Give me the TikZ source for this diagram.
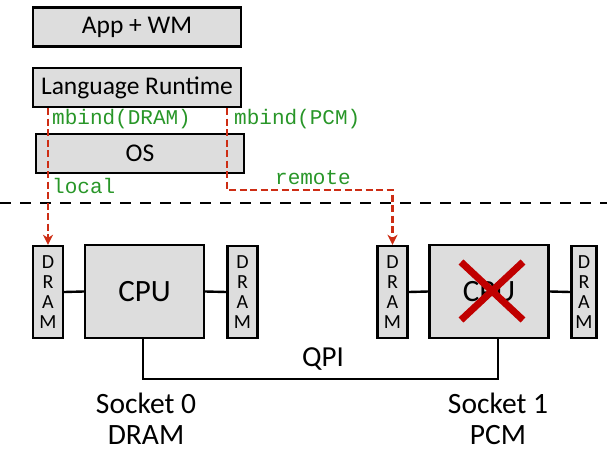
\documentclass[tikz,border=0pt]{standalone}
\usepackage{fontspec}
\setmainfont{Carlito}
\setmonofont{Liberation Mono}
\usetikzlibrary{arrows.meta,calc}
\definecolor{boxgray}{RGB}{221,221,221}
\definecolor{codegreen}{RGB}{40,150,40}
\definecolor{pathred}{RGB}{205,45,20}
\definecolor{crossred}{RGB}{192,0,0}
\begin{document}
\begin{tikzpicture}[x=1pt,y=-1pt,
  swbox/.style={draw=black,line width=2.4pt,fill=boxgray,minimum width=208pt,minimum height=39pt,inner sep=0pt,font=\fontsize{25.5}{25.5}\selectfont},
  cpubox/.style={draw=black,line width=2.4pt,fill=boxgray,minimum width=119pt,minimum height=93pt,inner sep=0pt,font=\fontsize{31}{31}\selectfont},
  drambox/.style={draw=black,line width=2.4pt,fill=boxgray,minimum width=30pt,minimum height=92pt,inner sep=0pt,align=center,font=\fontsize{20}{20}\selectfont},
  wire/.style={draw=black,line width=2.4pt},
  codelbl/.style={text=codegreen,font=\ttfamily\fontsize{21}{21}\selectfont,inner sep=0pt,anchor=west},
  redpath/.style={draw=pathred,line width=2.4pt,dash pattern=on 7pt off 3.5pt,-{Stealth[length=10pt,width=10pt,inset=3pt]}},
  socklbl/.style={font=\fontsize{29.5}{29.5}\selectfont,inner sep=0pt}
]
\useasboundingbox (0,0) rectangle (607,452);
% software stack
\node[swbox] (app) at (137,27) {App + WM};
\node[swbox] (lr) at (137,87.5) {Language Runtime};
\node[swbox] (os) at (140,153.5) {OS};
% separator
\coordinate (sepL) at (0,203);
\coordinate (sepR) at (607,203);
\draw[line width=2.2pt,dash pattern=on 11pt off 9pt] (sepL) -- (sepR);
% hardware
\node[drambox] (dram1) at (48,292) {D\\R\\A\\M};
\node[cpubox] (cpu0) at (144.5,291.5) {CPU};
\node[drambox] (dram2) at (242.5,292) {D\\R\\A\\M};
\node[drambox] (dram3) at (392.5,292) {D\\R\\A\\M};
\node[cpubox] (cpu1) at (489,291.5) {CPU};
\node[drambox,minimum width=25pt] (dram4) at (584,292) {D\\R\\A\\M};
\draw[wire] (dram1.east) -- (cpu0.west);
\draw[wire] (cpu0.east) -- (dram2.west);
\draw[wire] (dram3.east) -- (cpu1.west);
\draw[wire] (cpu1.east) -- (dram4.west);
\coordinate (qpiL) at (143,379);
\coordinate (qpiR) at (498,379);
\draw[wire] (cpu0.south -| qpiL) -- (qpiL) -- (qpiR) -- (cpu1.south -| qpiR);
\node[font=\fontsize{29}{29}\selectfont,inner sep=0pt] (qpi) at (323,359) {QPI};
% cross
\draw[crossred,line width=7pt] (461,262) -- (523,320);
\draw[crossred,line width=7pt] (523,262) -- (461,320);
% socket labels
\node[socklbl] (s0) at (146,403) {Socket 0};
\node[socklbl] (s0m) at (146,435.5) {DRAM};
\node[socklbl] (s1) at (498,403) {Socket 1};
\node[socklbl] (s1m) at (498,435.5) {PCM};
% red paths
\coordinate (rturn1) at (227,190);
\coordinate (rturn2) at (392.5,190);
\draw[redpath] (lr.south -| dram1.north) -- (dram1.north);
\draw[redpath] (lr.south -| rturn1) -- (rturn1) -- (rturn2) -- (dram3.north);
% labels
\node[codelbl] (mbd) at (52,119) {mbind(DRAM)};
\node[codelbl] (mbp) at (234,119) {mbind(PCM)};
\node[codelbl] (loc) at (52,186) {local};
\node[codelbl,anchor=center] (rem) at (313,178) {remote};
\end{tikzpicture}
\end{document}
